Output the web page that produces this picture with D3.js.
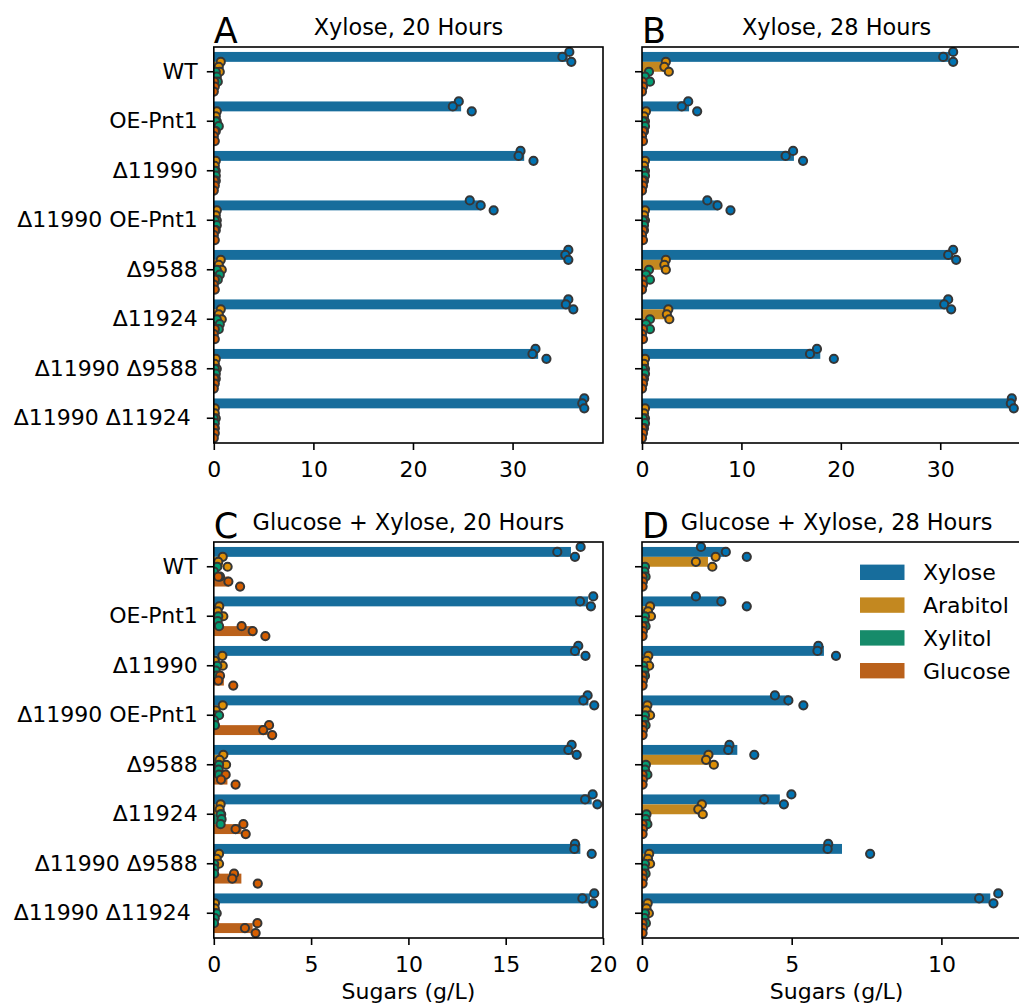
<!DOCTYPE html>
<html>
<head>
<meta charset="utf-8">
<script src="https://cdn.jsdelivr.net/npm/d3@7"></script>
<style>
  html, body { margin: 0; padding: 0; background: #fff; }
  svg { display: block; font-family: "DejaVu Sans", sans-serif; }
</style>
</head>
<body>
<svg id="chart" width="1019" height="1006"></svg>
<script>
// ---------------- DATA ----------------
const strains = ["WT", "OE-Pnt1", "Δ11990", "Δ11990 OE-Pnt1", "Δ9588", "Δ11924", "Δ11990 Δ9588", "Δ11990 Δ11924 "];
const sugars = ["Xylose", "Arabitol", "Xylitol", "Glucose"];

const panelLetters = ["A", "B", "C", "D"];
const panelTitles = ["Xylose, 20 Hours", "Xylose, 28 Hours", "Glucose + Xylose, 20 Hours", "Glucose + Xylose, 28 Hours"];
const panelXMax = [39.08, 39.15, 20, 13];
const panelTicks = [[0, 10, 20, 30], [0, 10, 20, 30], [0, 5, 10, 15, 20], [0, 5, 10]];
const xAxisLabel = "Sugars (g/L)";

// replicate values (g/L), three per strain, per sugar
// Panel A: Xylose, 20 h
const A_xylose   = [[35.7,35.0,35.9],[24.6,24.0,25.9],[30.8,30.6,32.1],[25.7,26.8,28.1],[35.6,35.3,35.6],[35.6,35.35,36.1],[32.3,32.0,33.4],[37.2,37.0,37.2]];
const A_arabitol = [[0.7,0.5,0.6],[0.3,0.2,0.3],[0.2,0.1,0.2],[0.3,0.2,0.3],[0.7,0.5,0.8],[0.7,0.5,0.8],[0.2,0.1,0.3],[0.1,0.1,0.2]];
const A_xylitol  = [[0.2,0.3,0.4],[0.2,0.5,0.2],[0.1,0.2,0.2],[0.1,0.3,0.2],[0.3,0.6,0.4],[0.3,0.6,0.5],[0.1,0.2,0.2],[0.0,0.1,0.1]];
const A_glucose  = [[0.05,0.1,0.0],[0.1,0.0,0.1],[0.05,0.1,0.0],[0.1,0.0,0.1],[0.1,0.0,0.1],[0.1,0.0,0.1],[0.05,0.1,0.0],[0.05,0.1,0.0]];
// Panel B: Xylose, 28 h
const B_xylose   = [[31.3,30.3,31.3],[4.65,4.0,5.55],[15.2,14.45,16.2],[6.57,7.6,8.9],[31.3,30.8,31.6],[30.8,30.4,31.1],[17.6,16.9,19.3],[37.2,37.1,37.4]];
const B_arabitol = [[2.4,2.25,2.7],[0.4,0.2,0.3],[0.3,0.2,0.3],[0.3,0.2,0.3],[2.4,2.25,2.4],[2.65,2.5,2.75],[0.3,0.2,0.3],[0.3,0.2,0.3]];
const B_xylitol  = [[0.7,0.3,0.8],[0.1,0.3,0.2],[0.1,0.3,0.2],[0.1,0.2,0.2],[0.7,0.4,0.8],[0.8,0.4,0.8],[0.1,0.3,0.2],[0.1,0.3,0.2]];
const B_glucose  = [[0.05,0.1,0.0],[0.1,0.0,0.1],[0.05,0.1,0.0],[0.1,0.0,0.1],[0.05,0.1,0.0],[0.1,0.0,0.1],[0.05,0.1,0.0],[0.05,0.1,0.0]];
// Panel C: Glucose + Xylose, 20 h
const C_xylose   = [[18.85,17.65,18.56],[19.5,18.82,19.38],[18.73,18.56,19.1],[19.21,18.99,19.55],[18.39,18.22,18.65],[19.47,19.08,19.71],[18.56,18.53,19.42],[19.55,18.94,19.5]];
const C_arabitol = [[0.46,0.23,0.71],[0.28,0.2,0.49],[0.44,0.05,0.46],[0.46,0.1,0.06],[0.49,0.3,0.63],[0.35,0.3,0.38],[0.27,0.15,0.27],[0.06,0.05,0.05]];
const C_xylitol  = [[0.18,0.01,0.32],[0.23,0.2,0.27],[0.18,0.1,0.15],[0.27,0.01,0.06],[0.27,0.25,0.27],[0.35,0.4,0.35],[0.02,0.02,0.02],[0.15,0.05,0.01]];
const C_glucose  = [[0.23,0.75,1.35],[1.43,2.0,2.65],[0.32,0.23,1.0],[2.84,2.54,3.0],[0.61,0.37,1.12],[1.52,1.12,1.64],[1.04,0.95,2.26],[2.24,1.6,2.15]];
// Panel D: Glucose + Xylose, 28 h
const D_xylose   = [[1.97,2.8,3.5],[1.8,2.65,3.5],[5.89,5.86,6.48],[4.44,4.89,5.39],[2.92,2.88,3.75],[4.99,4.08,4.74],[6.22,6.2,7.62],[11.9,11.26,11.74]];
const D_arabitol = [[2.46,1.8,2.35],[0.27,0.2,0.3],[0.21,0.15,0.24],[0.18,0.15,0.27],[2.22,2.14,2.4],[2.0,1.88,2.03],[0.24,0.2,0.27],[0.19,0.15,0.23]];
const D_xylitol  = [[0.1,0.08,0.12],[0.1,0.08,0.12],[0.04,0.08,0.1],[0.1,0.08,0.12],[0.13,0.1,0.18],[0.15,0.12,0.18],[0.1,0.08,0.12],[0.1,0.08,0.13]];
const D_glucose  = [[0.02,0.03,0.02],[0.02,0.03,0.02],[0.02,0.03,0.02],[0.02,0.03,0.02],[0.02,0.03,0.02],[0.02,0.03,0.02],[0.02,0.03,0.02],[0.02,0.03,0.02]];

const panelData = [
  [A_xylose, A_arabitol, A_xylitol, A_glucose],
  [B_xylose, B_arabitol, B_xylitol, B_glucose],
  [C_xylose, C_arabitol, C_xylitol, C_glucose],
  [D_xylose, D_arabitol, D_xylitol, D_glucose]
];

// ---------------- STYLE ----------------
const barColors = ["#176d9c", "#c38820", "#168b6a", "#ba611b"];
const pointColors = ["#0173b2", "#de8f05", "#029e73", "#d55e00"];
const jitter = [-0.5, 0, 0.5]; // fraction of hue-bar thickness
const panelBoxes = [
  { x: 213.8, y: 47, w: 389.2, h: 396 },
  { x: 642, y: 47, w: 389.2, h: 396 },
  { x: 213.8, y: 542, w: 389.2, h: 396 },
  { x: 642, y: 542, w: 389.2, h: 396 }
];

const svg = d3.select("#chart");

panelBoxes.forEach((box, pi) => {
  const g = svg.append("g").attr("transform", `translate(${box.x},${box.y})`);
  const x = d3.scaleLinear().domain([0, panelXMax[pi]]).range([0, box.w]);
  const y = d3.scaleBand().domain(strains).range([0, box.h]).padding(0);
  const hue = d3.scaleBand().domain(sugars).range([0.1 * y.bandwidth(), 0.9 * y.bandwidth()]).padding(0);

  const clipId = "clip" + pi;
  g.append("clipPath").attr("id", clipId).append("rect")
    .attr("x", 0).attr("y", 0).attr("width", box.w).attr("height", box.h);

  const plot = g.append("g").attr("clip-path", `url(#${clipId})`);

  // bars (means)
  sugars.forEach((s, si) => {
    const rows = panelData[pi][si];
    plot.append("g").selectAll("rect")
      .data(strains.map((st, k) => ({ st, mean: d3.mean(rows[k]) })))
      .join("rect")
      .attr("x", x(0))
      .attr("y", d => y(d.st) + hue(s))
      .attr("height", hue.bandwidth())
      .attr("width", d => x(d.mean) - x(0))
      .attr("fill", barColors[si]);
  });

  // points (replicates)
  sugars.forEach((s, si) => {
    const rows = panelData[pi][si];
    const pts = [];
    strains.forEach((st, k) => rows[k].forEach((v, r) => pts.push({ st, v, r })));
    plot.append("g").selectAll("circle")
      .data(pts)
      .join("circle")
      .attr("cx", d => x(d.v))
      .attr("cy", d => y(d.st) + hue(s) + hue.bandwidth() / 2 + jitter[d.r] * hue.bandwidth())
      .attr("r", 4.1)
      .attr("fill", pointColors[si])
      .attr("stroke", "#363636")
      .attr("stroke-width", 2);
  });

  // axes
  const xAxis = g.append("g").attr("transform", `translate(0,${box.h})`)
    .call(d3.axisBottom(x).tickValues(panelTicks[pi]).tickFormat(d3.format("d")).tickSize(7).tickPadding(11));
  const yAx = d3.axisLeft(y).tickSize(7).tickPadding(9);
  if (pi % 2 === 1) yAx.tickFormat(() => "");
  const yAxis = g.append("g").call(yAx);
  [xAxis, yAxis].forEach(a => {
    a.select(".domain").remove();
    a.selectAll(".tick line").attr("stroke", "#000").attr("stroke-width", 1.6);
    a.selectAll(".tick text").attr("fill", "#000").style("font-size", "22px")
      .style("font-family", "DejaVu Sans").style("white-space", "pre");
  });

  // spines
  g.append("rect").attr("x", 0).attr("y", 0).attr("width", box.w).attr("height", box.h)
    .attr("fill", "none").attr("stroke", "#000").attr("stroke-width", 1.6);

  // title & letter
  g.append("text").attr("x", box.w / 2).attr("y", -12.5).attr("text-anchor", "middle")
    .style("font-size", "22.4px").text(panelTitles[pi]);
  g.append("text").attr("x", 0).attr("y", -4.5)
    .style("font-size", "35px").text(panelLetters[pi]);

  if (pi >= 2) {
    g.append("text").attr("x", box.w / 2).attr("y", box.h + 61).attr("text-anchor", "middle")
      .style("font-size", "22px").text(xAxisLabel);
  }

  // legend in panel D
  if (pi === 3) {
    const lg = svg.append("g").attr("transform", "translate(860,572.3)");
    sugars.forEach((s, si) => {
      const row = lg.append("g").attr("transform", `translate(0,${si * 32.8})`);
      row.append("rect").attr("x", 0).attr("y", -7.7).attr("width", 44.5).attr("height", 15.4).attr("fill", barColors[si]);
      row.append("text").attr("x", 63).attr("y", 8).style("font-size", "22px").text(s);
    });
  }
});
</script>
</body>
</html>
